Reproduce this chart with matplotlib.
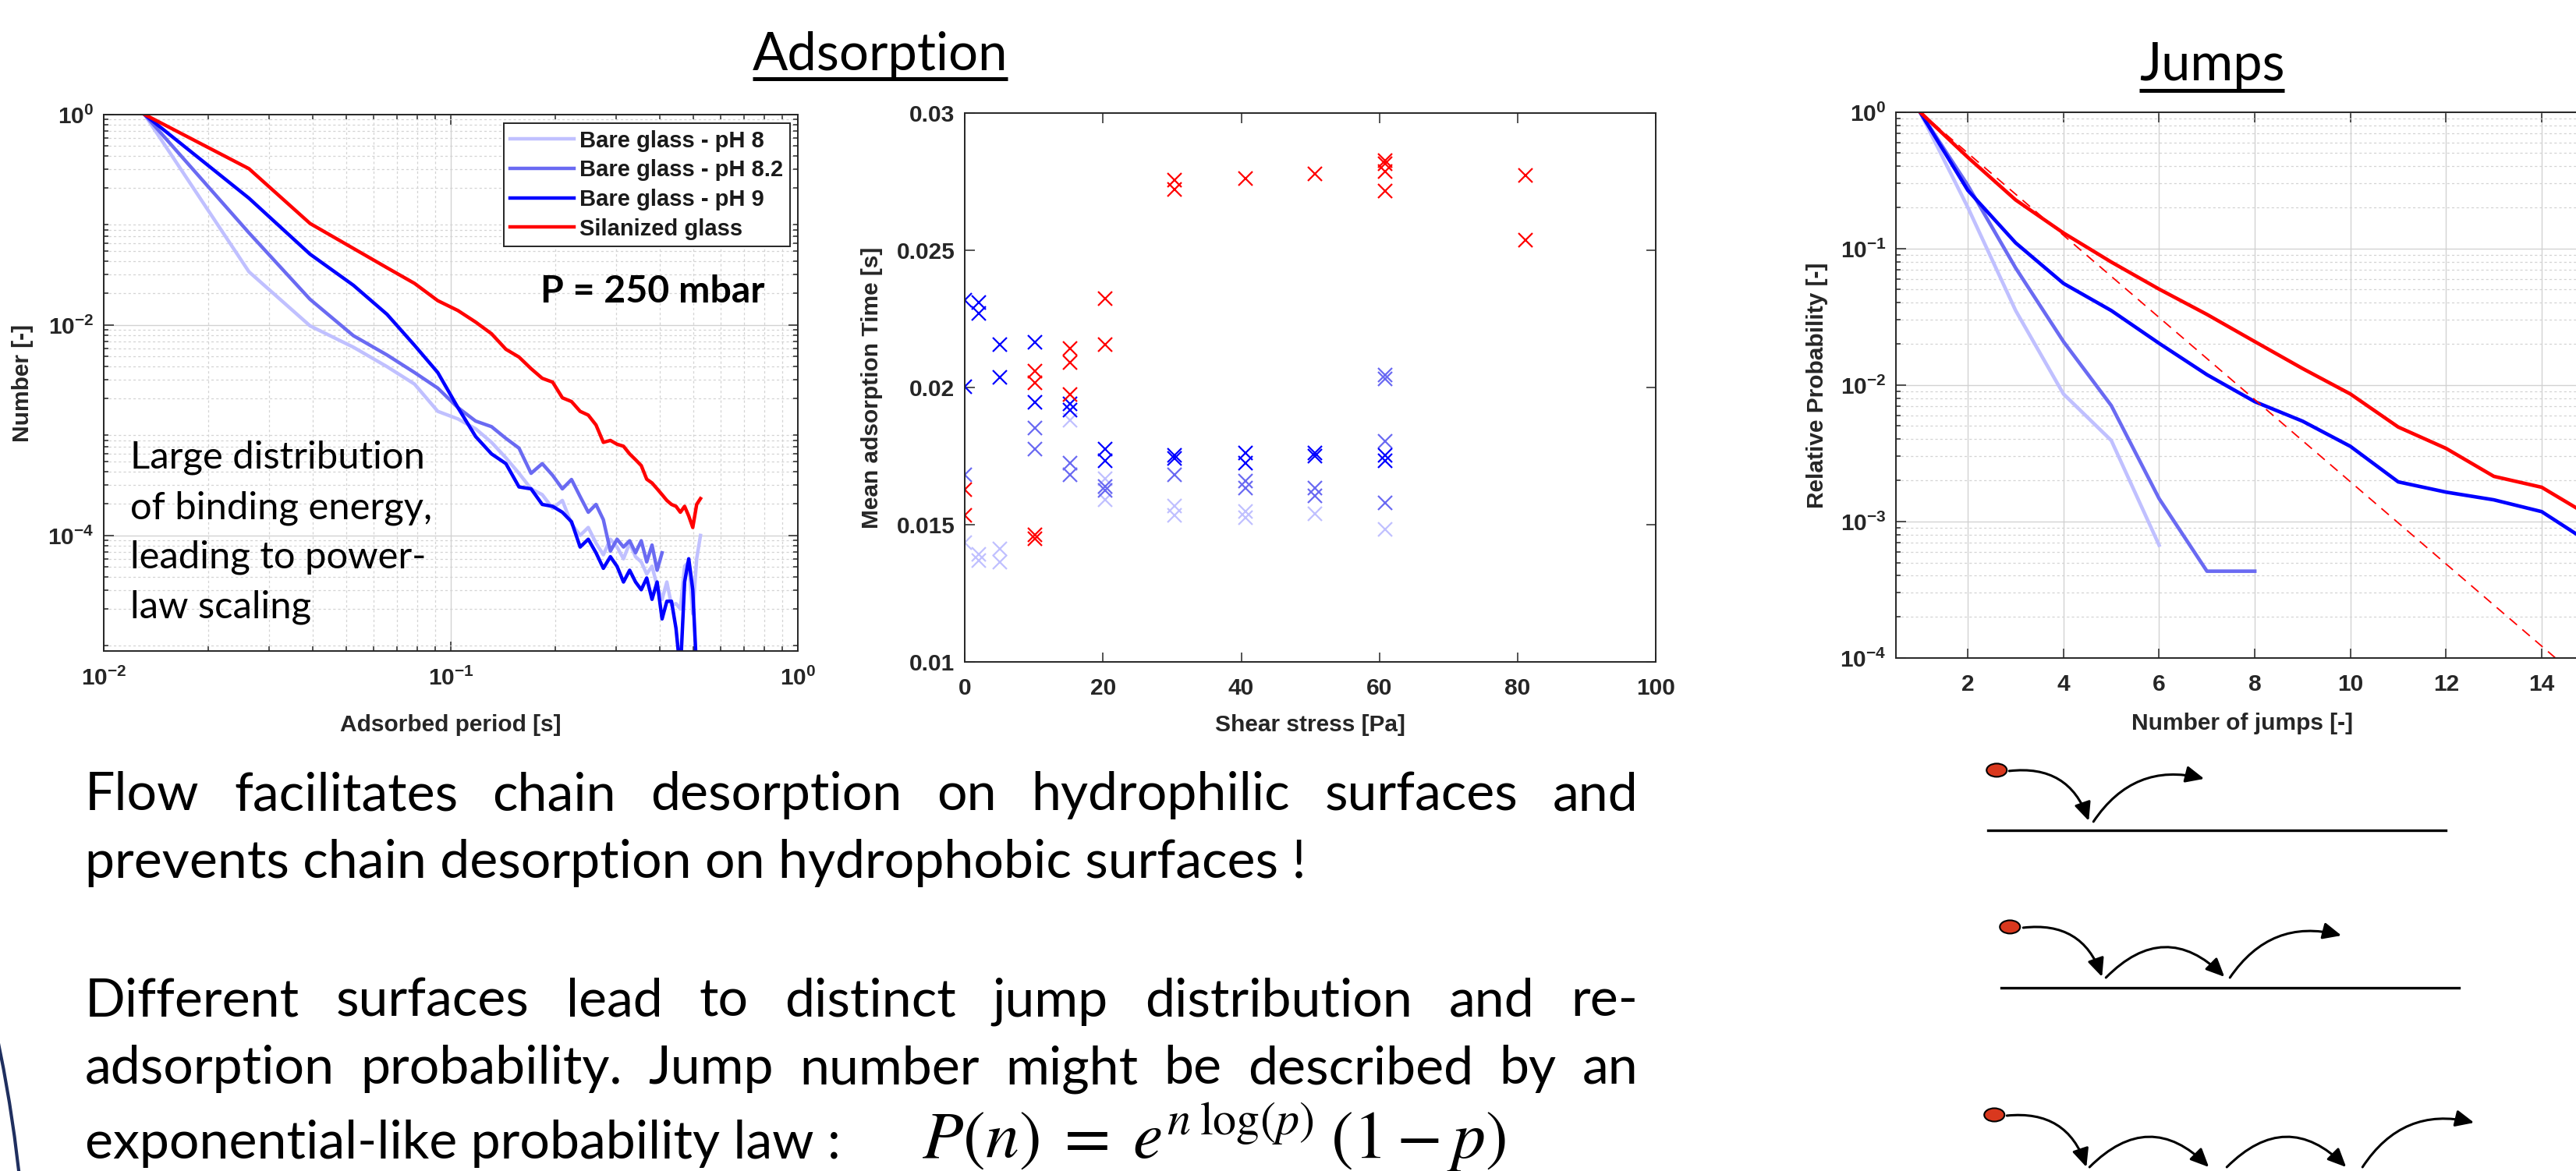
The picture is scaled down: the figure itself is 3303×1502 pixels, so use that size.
import matplotlib
matplotlib.use("Agg")
import matplotlib.pyplot as plt
from matplotlib.patches import FancyArrowPatch, Ellipse, Circle
from matplotlib.ticker import LogLocator, NullFormatter, NullLocator

# ---------------- data ----------------
period_s = [0.0131, 0.0262, 0.0393, 0.0524, 0.0655, 0.0786, 0.0917, 0.1048, 0.1179, 0.131,
            0.1441, 0.1572, 0.1703, 0.1834, 0.1965, 0.2096, 0.2227, 0.2358, 0.2489, 0.262,
            0.2751, 0.2882, 0.3013, 0.3144, 0.3275, 0.3406, 0.3537, 0.3668, 0.3799, 0.393,
            0.4061, 0.4192, 0.4323, 0.4454, 0.4585, 0.4716, 0.4847, 0.4978, 0.5109, 0.524]
num_ph8 = [1, 0.032, 0.0098, 0.00614, 0.00401, 0.00274, 0.00151, 0.00128, 0.00103, 0.000766,
           0.000546, 0.000389, 0.000277, 0.000244, 0.000181, 0.000215, 0.000129, 0.0001, 0.000119, 8.45e-5,
           6.55e-5, 9.2e-5, 7.76e-5, 6.0e-5, 8.45e-5, 6.28e-5, 5.6e-5, 4.3e-5, 5.1e-5, 3.32e-5,
           2.47e-5, 3.61e-5, 2.17e-5, 2.25e-5, 2.0e-5, 5.1e-5, 5.6e-5, 1.8e-5, 6.0e-5, 1.0e-4]
num_ph82 = [1, 0.075, 0.0175, 0.0079, 0.00518, 0.00353, 0.00251, 0.00164, 0.00122, 0.00108,
            0.000836, 0.000675, 0.000389, 0.000481, 0.000372, 0.000277, 0.00034, 0.000234, 0.000166, 0.000197,
            0.000141, 7.1e-5, 9.2e-5, 7.76e-5, 8.9e-5, 6.84e-5, 8.9e-5, 5.6e-5, 8.1e-5, 4.67e-5,
            6.84e-5]
num_ph9 = [1, 0.16, 0.047, 0.0238, 0.0126, 0.0064, 0.00353, 0.00164, 0.00087, 0.000595,
           0.000481, 0.000289, 0.000277, 0.000197, 0.000189, 0.000166, 0.000135, 7.76e-5, 9.2e-5, 6.84e-5,
           4.87e-5, 6.28e-5, 5.08e-5, 3.61e-5, 4.67e-5, 3.61e-5, 3.05e-5, 3.94e-5, 2.47e-5, 3.61e-5,
           1.61e-5, 2.37e-5, 2.37e-5, 1.31e-5, 5e-6, 3.61e-5, 6.0e-5, 3.05e-5, 5e-6, 5e-6]
num_sil = [1, 0.305, 0.092, 0.0533, 0.0349, 0.0248, 0.0170, 0.0137, 0.01064, 0.00824,
           0.00587, 0.00495, 0.00384, 0.00311, 0.00286, 0.00203, 0.00187, 0.00151, 0.00139, 0.00112,
           0.000766, 0.000799, 0.000735, 0.000704, 0.000595, 0.000524, 0.000461, 0.000342, 0.000315, 0.000277,
           0.000244, 0.000215, 0.000197, 0.000189, 0.000166, 0.000189, 0.000153, 0.000119, 0.000197, 0.000224]
series_labels = ["Bare glass - pH 8", "Bare glass - pH 8.2", "Bare glass - pH 9", "Silanized glass"]

shear_ph8 = [0, 2.0, 2.0, 5.1, 5.1, 15.2, 20.3, 20.3, 30.4, 30.4, 40.6, 40.6, 50.7, 60.8]
time_ph8 = [0.01433, 0.01391, 0.01369, 0.01412, 0.01362, 0.01881, 0.01668, 0.01590, 0.01568,
            0.01533, 0.01547, 0.01526, 0.01540, 0.01483]
shear_ph82 = [0, 10.2, 10.2, 15.2, 15.2, 20.3, 20.3, 30.4, 40.6, 40.6, 50.7, 50.7, 60.8, 60.8, 60.8, 60.8]
time_ph82 = [0.01682, 0.01852, 0.01774, 0.01724, 0.01682, 0.01639, 0.01625, 0.01682, 0.01660,
             0.01632, 0.01632, 0.01604, 0.01803, 0.01578, 0.02044, 0.02030]
shear_ph9 = [0, 0, 2.0, 2.0, 5.1, 5.1, 10.2, 10.2, 15.2, 15.2, 20.3, 20.3, 30.4, 30.4,
             40.6, 40.6, 50.7, 50.7, 60.8, 60.8]
time_ph9 = [0.02318, 0.02001, 0.02310, 0.02268, 0.02156, 0.02037, 0.02163, 0.01945, 0.01940,
            0.01916, 0.01774, 0.01732, 0.01753, 0.01741, 0.01760, 0.01724, 0.01760, 0.01749,
            0.01753, 0.01732]
shear_sil = [0, 0, 10.2, 10.2, 10.2, 10.2, 15.2, 15.2, 15.2, 20.3, 20.3, 30.4, 30.4, 40.6,
             50.7, 60.8, 60.8, 60.8, 60.8, 81.1, 81.1]
time_sil = [0.01628, 0.01533, 0.01462, 0.01447, 0.02058, 0.02016, 0.02141, 0.02089, 0.01973,
            0.02324, 0.02156, 0.02754, 0.02722, 0.02761, 0.02778, 0.02825, 0.02815, 0.02786,
            0.02716, 0.02771, 0.02537]

jumps = [1, 2, 3, 4, 5, 6, 7, 8, 9, 10, 11, 12, 13, 14, 15]
prob_ph8 = [1, 0.2, 0.0351, 0.00859, 0.00392, 0.00067]
prob_ph82 = [1, 0.29, 0.072, 0.0208, 0.00706, 0.00147, 0.000432, 0.000432]
prob_ph9 = [1, 0.267, 0.110, 0.0555, 0.0351, 0.0202, 0.0119, 0.00755, 0.00543, 0.00355,
            0.00195, 0.00164, 0.00144, 0.00118, 0.0007]
prob_sil = [1, 0.466, 0.227, 0.130, 0.0796, 0.0504, 0.0329, 0.0208, 0.0132, 0.00859,
            0.00492, 0.00343, 0.00214, 0.00178, 0.0011]
fit_jumps = [1, 15]
fit_prob = [1, 6.1e-5]

adsorb_xticks = ["$10^{-2}$", "$10^{-1}$", "$10^{0}$"]
adsorb_yticks = ["$10^{-4}$", "$10^{-2}$", "$10^{0}$"]
shear_xticks = ["0", "20", "40", "60", "80", "100"]
time_yticks = ["0.01", "0.015", "0.02", "0.025", "0.03"]
jump_xticks = ["2", "4", "6", "8", "10", "12", "14"]
prob_yticks = ["$10^{-4}$", "$10^{-3}$", "$10^{-2}$", "$10^{-1}$", "$10^{0}$"]

# ---------------- style ----------------
W, H = 3303, 1502
plt.rcParams['font.family'] = ['Liberation Sans', 'DejaVu Sans']
plt.rcParams['font.weight'] = 'normal'
plt.rcParams['mathtext.fontset'] = 'custom'
plt.rcParams['mathtext.rm'] = 'Liberation Sans:bold'
plt.rcParams['mathtext.it'] = 'Liberation Sans:bold:italic'
plt.rcParams['mathtext.bf'] = 'Liberation Sans:bold'

C8, C82, C9, CS = '#c0c0ff', '#6a6af2', '#0000ff', '#ff0000'
AXC = '#262626'
TICK_FS = 21.5
LABEL_FS = 21.5
BODY = ['Lato', 'DejaVu Sans']
TK = dict(fontweight='bold')

fig = plt.figure(figsize=((W + 0.3) / 100, (H + 0.3) / 100), dpi=100)


def rect(l, t, r, b):
    return [l / W, 1 - b / H, (r - l) / W, (b - t) / H]


def style(ax, xpad=14):
    for s in ax.spines.values():
        s.set_color(AXC)
        s.set_linewidth(1.4)
    ax.tick_params(which='both', direction='in', top=True, right=True,
                   colors=AXC, labelcolor=AXC, width=1.1)
    ax.tick_params(which='major', length=9, labelsize=TICK_FS)
    ax.tick_params(which='minor', length=4.5)
    ax.tick_params(axis='x', pad=xpad)
    ax.tick_params(axis='y', pad=9)


# ---------------- left: adsorbed period ----------------
axL = fig.add_axes(rect(133, 147, 1023, 835))
axL.plot(period_s[:len(num_ph8)], num_ph8, color=C8, lw=3.2, label=series_labels[0])
axL.plot(period_s[:len(num_ph82)], num_ph82, color=C82, lw=3.2, label=series_labels[1])
axL.plot(period_s[:len(num_ph9)], num_ph9, color=C9, lw=3.2, label=series_labels[2])
axL.plot(period_s[:len(num_sil)], num_sil, color=CS, lw=3.2, label=series_labels[3])
axL.set_xscale('log')
axL.set_yscale('log')
axL.set_xlim(0.01, 1)
axL.set_ylim(8e-6, 1)
axL.set_xticks([0.01, 0.1, 1], adsorb_xticks, **TK)
axL.set_yticks([1e-4, 1e-2, 1], adsorb_yticks, **TK)
axL.xaxis.set_minor_locator(LogLocator(base=10, subs=range(2, 10), numticks=20))
axL.yaxis.set_minor_locator(LogLocator(base=10, subs=range(2, 10), numticks=20))
axL.xaxis.set_minor_formatter(NullFormatter())
axL.yaxis.set_minor_formatter(NullFormatter())
axL.grid(which='major', color='#d2d2d2', lw=1.0, ls='-')
axL.grid(which='minor', color='#d4d4d4', lw=0.9, ls=(0, (2.5, 2.5)))
axL.set_axisbelow(True)
style(axL, xpad=15)
leg = axL.legend(loc='upper right', bbox_to_anchor=(0.989, 0.984), borderaxespad=0,
                 prop={'family': ['Liberation Sans'], 'weight': 'bold', 'size': 21},
                 handlelength=2.8, handletextpad=0.25, labelspacing=0.33,
                 borderpad=0.3, fancybox=False, framealpha=1, edgecolor=AXC)
leg.get_frame().set_linewidth(1.4)
for t in leg.get_texts():
    t.set_color('#1a1a1a')

# ---------------- middle: mean adsorption time ----------------
axM = fig.add_axes(rect(1237, 145, 2123, 849))
mk = dict(ls='none', marker='x', ms=13, mew=1.6)
axM.plot(shear_ph8, time_ph8, color=C8, **mk)
axM.plot(shear_ph82, time_ph82, color=C82, **mk)
axM.plot(shear_ph9, time_ph9, color=C9, **mk)
axM.plot(shear_sil, time_sil, color=CS, **mk)
axM.set_xlim(0, 100)
axM.set_ylim(0.01, 0.03)
axM.set_xticks([0, 20, 40, 60, 80, 100], shear_xticks, **TK)
axM.set_yticks([0.01, 0.015, 0.02, 0.025, 0.03], time_yticks, **TK)
axM.xaxis.set_minor_locator(NullLocator())
axM.yaxis.set_minor_locator(NullLocator())
style(axM, xpad=14)

# ---------------- right: jumps ----------------
axR = fig.add_axes(rect(2431, 144, 3320, 844))
axR.plot(jumps[:len(prob_ph8)], prob_ph8, color=C8, lw=3.3)
axR.plot(jumps[:len(prob_ph82)], prob_ph82, color=C82, lw=3.3)
axR.plot(jumps[:len(prob_ph9)], prob_ph9, color=C9, lw=3.3)
axR.plot(jumps[:len(prob_sil)], prob_sil, color=CS, lw=3.3)
axR.plot(fit_jumps, fit_prob, color=CS, lw=1.3, ls=(0, (7, 5)))
axR.set_yscale('log')
axR.set_xlim(0.5, 15)
axR.set_ylim(1e-4, 1)
axR.set_xticks([2, 4, 6, 8, 10, 12, 14], jump_xticks, **TK)
axR.set_yticks([1e-4, 1e-3, 1e-2, 1e-1, 1], prob_yticks, **TK)
axR.xaxis.set_minor_locator(NullLocator())
axR.yaxis.set_minor_locator(LogLocator(base=10, subs=range(2, 10), numticks=20))
axR.yaxis.set_minor_formatter(NullFormatter())
axR.grid(which='major', color='#d2d2d2', lw=1.0, ls='-')
axR.grid(which='minor', axis='y', color='#d4d4d4', lw=0.9, ls=(0, (2.5, 2.5)))
axR.set_axisbelow(True)
style(axR, xpad=14)

# ---------------- overlay in pixel coordinates ----------------
ov = fig.add_axes([0, 0, 1, 1], zorder=10)
ov.set_xlim(0, W)
ov.set_ylim(H, 0)
ov.axis('off')
renderer = fig.canvas.get_renderer()


def twidth(s, **kw):
    t = ov.text(0, 0, s, **kw)
    w = t.get_window_extent(renderer).width
    t.remove()
    return w


def fit_fs(s, target, **kw):
    return 40 * target / twidth(s, fontsize=40, **kw)


# axis labels
lab = dict(fontsize=LABEL_FS, weight='bold', color=AXC)
ov.text(578, 938, 'Adsorbed period [s]', ha='center', va='baseline', **lab)
ov.text(1680, 938, 'Shear stress [Pa]', ha='center', va='baseline', **lab)
ov.text(2875, 936, 'Number of jumps [-]', ha='center', va='baseline', **lab)
ov.text(29, 491, 'Number [-]', rotation=90, ha='center', va='center', **lab)
ov.text(1118, 497, 'Mean adsorption Time [s]', rotation=90, ha='center', va='center', **lab)
ov.text(2330, 494, 'Relative Probability [-]', rotation=90, ha='center', va='center', **lab)

# titles (underlined)
for s, x0, x1, base, uy in [('Adsorption', 965, 1292, 90, 101), ('Jumps', 2743, 2929, 103, 116)]:
    fs = fit_fs(s, x1 - x0, family=BODY, weight='normal')
    ov.text(x0, base, s, fontsize=fs, family=BODY, weight='normal', ha='left', va='baseline')
    ov.plot([x0, x1], [uy, uy], color='k', lw=3.6, solid_capstyle='butt')

# text inside left plot
fs_in = fit_fs('Large distribution', 378, family=BODY, weight='normal')
for s, base in [('Large distribution', 600), ('of binding energy,', 665),
                ('leading to power-', 728), ('law scaling', 792)]:
    ov.text(167, base, s, fontsize=fs_in, family=BODY, weight='normal', ha='left', va='baseline')
fs_p = fit_fs('P = 250 mbar', 287, family=BODY, weight='bold')
ov.text(693, 388, 'P = 250 mbar', fontsize=fs_p, family=BODY, weight='bold', ha='left', va='baseline')

# body text
line2 = 'prevents chain desorption on hydrophobic surfaces !'
fs_body = fit_fs(line2, 1564, family=BODY, weight='normal')
X0, X1 = 109, 2100


def justified(s, base):
    words = s.split(' ')
    ws = [twidth(w, fontsize=fs_body, family=BODY, weight='normal') for w in words]
    gap = (X1 - X0 - sum(ws)) / (len(words) - 1)
    x = X0
    for w, wd in zip(words, ws):
        ov.text(x, base, w, fontsize=fs_body, family=BODY, weight='normal', ha='left', va='baseline')
        x += wd + gap


justified('Flow facilitates chain desorption on hydrophilic surfaces and', 1039)
ov.text(X0, 1126, line2, fontsize=fs_body, family=BODY, weight='normal', ha='left', va='baseline')
justified('Different surfaces lead to distinct jump distribution and re-', 1303)
justified('adsorption probability. Jump number might be described by an', 1390)
ov.text(X0, 1486, 'exponential-like probability law :', fontsize=fs_body, family=BODY,
        weight='normal', ha='left', va='baseline')
formula = r'$P(n)\;=\;e^{n\;\log(p)}\;(1-p)$'
fs_f = fit_fs(formula, 750, math_fontfamily='stix', weight='normal')
ov.text(1182, 1486, formula, fontsize=fs_f, math_fontfamily='stix', weight='normal',
        ha='left', va='baseline')

# navy arc at bottom-left
ov.add_patch(Circle((-1753, 1700), 1788, fill=False, edgecolor='#1f2f5f', lw=3))

# jump schematics
def arrow(p0, p1, rad):
    ov.add_patch(FancyArrowPatch(p0, p1, connectionstyle=f'arc3,rad={rad}',
                                 arrowstyle='-|>,head_length=1.1,head_width=0.5',
                                 mutation_scale=13, lw=2.2, color='k',
                                 shrinkA=0, shrinkB=0))


def dot(c):
    ov.add_patch(Ellipse(c, 26, 17, facecolor='#d9381e', edgecolor='k', lw=1.5, zorder=5))


ov.plot([2549, 3136], [1065, 1065], color='k', lw=2.4)
dot((2560, 988))
arrow((2576, 989), (2678, 1053), -0.4)
arrow((2684, 1054), (2826, 999), -0.35)

ov.plot([2566, 3153], [1267, 1267], color='k', lw=2.4)
dot((2577, 1189))
arrow((2594, 1190), (2695, 1253), -0.4)
arrow((2700, 1254), (2852, 1253), -0.5)
arrow((2859, 1254), (3002, 1200), -0.35)

dot((2557, 1430))
arrow((2573, 1431), (2675, 1497), -0.4)
arrow((2679, 1497), (2832, 1497), -0.5)
arrow((2855, 1497), (3008, 1497), -0.5)
arrow((3029, 1497), (3172, 1440), -0.35)

fig.savefig('out.png', dpi=100)
